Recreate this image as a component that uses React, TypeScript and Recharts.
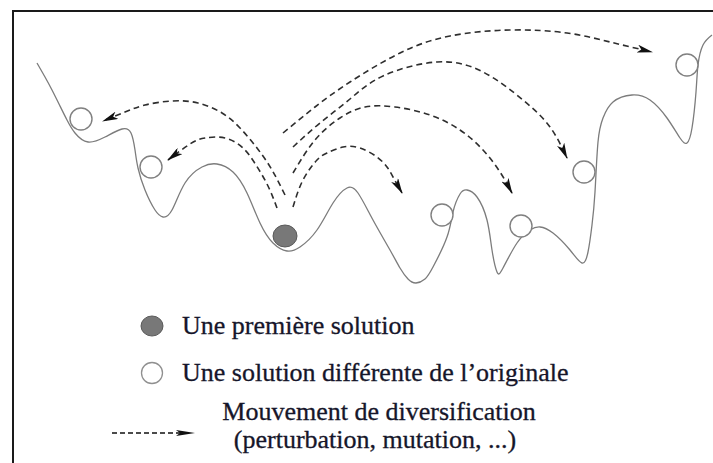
import { ComposedChart, Line, Scatter, XAxis, YAxis, Legend } from 'recharts';

// landscape of the search space (x = position, y = depth from the top of the frame)
const landscape = [
  { x: 37, y: 63 }, { x: 45, y: 77 }, { x: 52, y: 90 }, { x: 60, y: 106 }, { x: 67, y: 120 },
  { x: 75, y: 133 }, { x: 88, y: 142 }, { x: 105, y: 137 }, { x: 122, y: 129 }, { x: 131, y: 133 },
  { x: 135, y: 150 }, { x: 138, y: 168 }, { x: 145, y: 190 }, { x: 155, y: 210 }, { x: 163, y: 217 },
  { x: 172, y: 210 }, { x: 185, y: 183 }, { x: 202, y: 167 }, { x: 217, y: 164 }, { x: 233, y: 172 },
  { x: 247, y: 193 }, { x: 260, y: 223 }, { x: 273, y: 243 }, { x: 287, y: 251 }, { x: 300, y: 247 },
  { x: 317, y: 230 }, { x: 333, y: 203 }, { x: 347, y: 188 }, { x: 358, y: 193 }, { x: 373, y: 220 },
  { x: 390, y: 250 }, { x: 400, y: 268 }, { x: 408, y: 279 }, { x: 416, y: 283 }, { x: 425, y: 279 },
  { x: 433, y: 267 }, { x: 447, y: 237 }, { x: 453, y: 212 }, { x: 460, y: 194 }, { x: 467, y: 190 },
  { x: 477, y: 197 }, { x: 487, y: 220 }, { x: 492, y: 250 }, { x: 497, y: 272 }, { x: 503, y: 268 },
  { x: 517, y: 243 }, { x: 530, y: 230 }, { x: 540, y: 227 }, { x: 553, y: 233 }, { x: 570, y: 250 },
  { x: 582, y: 263 }, { x: 588, y: 252 }, { x: 592, y: 225 }, { x: 595, y: 192 }, { x: 598, y: 142 },
  { x: 603, y: 118 }, { x: 613, y: 102 }, { x: 632, y: 95 }, { x: 650, y: 100 }, { x: 667, y: 118 },
  { x: 680, y: 138 }, { x: 687, y: 143 }, { x: 692, y: 128 }, { x: 696, y: 92 }, { x: 698, y: 65 },
  { x: 703, y: 45 }, { x: 712, y: 35 },
];

const firstSolution = [{ x: 285, y: 236 }];

const otherSolutions = [
  { x: 81, y: 119 }, { x: 151, y: 167 }, { x: 442, y: 215 },
  { x: 521, y: 226 }, { x: 584, y: 172 }, { x: 687, y: 65 },
];

// diversification moves
const moveLeftOuter = [
  { x: 285, y: 195 }, { x: 272, y: 170 }, { x: 257, y: 148 }, { x: 240, y: 128 }, { x: 222, y: 113 },
  { x: 198, y: 103 }, { x: 172, y: 101 }, { x: 145, y: 105 }, { x: 125, y: 112 }, { x: 103, y: 121 },
];
const moveLeftInner = [
  { x: 277, y: 208 }, { x: 268, y: 186 }, { x: 256, y: 165 }, { x: 243, y: 148 }, { x: 225, y: 138 },
  { x: 205, y: 138 }, { x: 190, y: 144 }, { x: 168, y: 160 },
];
const moveRightTop = [
  { x: 283, y: 133 }, { x: 315, y: 107 }, { x: 350, y: 82 }, { x: 400, y: 53 }, { x: 450, y: 36 },
  { x: 510, y: 30 }, { x: 567, y: 33 }, { x: 610, y: 42 }, { x: 652, y: 52 },
];
const moveRightSecond = [
  { x: 293, y: 147 }, { x: 320, y: 123 }, { x: 350, y: 99 }, { x: 383, y: 76 }, { x: 437, y: 62 },
  { x: 483, y: 72 }, { x: 523, y: 100 }, { x: 550, y: 127 }, { x: 567, y: 158 },
];
const moveRightThird = [
  { x: 293, y: 173 }, { x: 315, y: 140 }, { x: 340, y: 118 }, { x: 365, y: 107 }, { x: 395, y: 107 },
  { x: 430, y: 115 }, { x: 460, y: 130 }, { x: 483, y: 150 }, { x: 500, y: 172 }, { x: 512, y: 193 },
];
const moveRightFourth = [
  { x: 293, y: 207 }, { x: 303, y: 180 }, { x: 317, y: 160 }, { x: 327, y: 153 }, { x: 343, y: 147 },
  { x: 360, y: 148 }, { x: 377, y: 157 }, { x: 387, y: 167 }, { x: 393, y: 177 }, { x: 402, y: 193 },
];

const moves = [moveLeftOuter, moveLeftInner, moveRightTop, moveRightSecond, moveRightThird, moveRightFourth];

const legendLabels = [
  'Une première solution',
  'Une solution différente de l’originale',
  'Mouvement de diversification',
  '(perturbation, mutation, ...)',
];

const W = 713;
const H = 463;
const serif = '"Liberation Serif", "DejaVu Serif", serif';
const ink = '#16162a';

const Ring = (p: any) => (
  <circle cx={p.cx} cy={p.cy} r={11} fill="#fff" stroke="#808080" strokeWidth={1.4} />
);

const Ball = (p: any) => (
  <ellipse cx={p.cx} cy={p.cy} rx={12} ry={11} fill="#787878" stroke="#5a5a5a" strokeWidth={1} />
);

function LegendKey() {
  return (
    <svg width={W} height={H} style={{ display: 'block' }}>
      <ellipse cx={152} cy={326} rx={11} ry={10} fill="#787878" stroke="#5a5a5a" />
      <text x={182} y={334} fontFamily={serif} fontSize={26} fill={ink} stroke={ink} strokeWidth={0.3}>{legendLabels[0]}</text>
      <circle cx={152} cy={373} r={10.5} fill="#fff" stroke="#909090" strokeWidth={1.3} />
      <text x={182} y={381} fontFamily={serif} fontSize={26} fill={ink} stroke={ink} strokeWidth={0.3}>{legendLabels[1]}</text>
      <line x1={112} y1={433} x2={180} y2={433} stroke="#111" strokeWidth={1.5} strokeDasharray="5 3" />
      <polygon points="176,430 195,433 176,436 180,433" fill="#111" />
      <text x={379} y={420} textAnchor="middle" fontFamily={serif} fontSize={26} fill={ink} stroke={ink} strokeWidth={0.3}>{legendLabels[2]}</text>
      <text x={375} y={448} textAnchor="middle" fontFamily={serif} fontSize={26} fill={ink} stroke={ink} strokeWidth={0.3}>{legendLabels[3]}</text>
    </svg>
  );
}

export default function App() {
  return (
    <div style={{ position: 'absolute', left: 0, top: 0, width: W, height: H, background: '#fff', overflow: 'hidden' }}>
      <div
        style={{
          position: 'absolute', left: 12, top: 10, width: W, height: H,
          borderTop: '2px solid #1a1a1a', borderLeft: '2px solid #1a1a1a',
        }}
      />
      <ComposedChart width={W} height={H} margin={{ top: 0, right: 0, bottom: 0, left: 0 }} style={{ position: 'absolute', left: 0, top: 0 }}>
        <defs>
          <marker id="moveHead" viewBox="0 0 16 8" refX={15} refY={4} markerWidth={16} markerHeight={8} markerUnits="userSpaceOnUse" orient="auto">
            <path d="M0,0 L16,4 L0,8 L4,4 z" fill="#111" stroke="none" />
          </marker>
        </defs>
        <XAxis type="number" dataKey="x" domain={[0, W]} hide />
        <YAxis type="number" domain={[0, H]} reversed hide />
        <Line data={landscape} dataKey="y" type="natural" stroke="#7c7c7c" strokeWidth={1.3} dot={false} activeDot={false} isAnimationActive={false} legendType="none" />
        {moves.map((m, i) => (
          <Line
            key={i}
            data={m}
            dataKey="y"
            type="natural"
            stroke="#2e2e2e"
            strokeWidth={1.6}
            strokeDasharray="6 4"
            dot={false}
            activeDot={false}
            markerEnd="url(#moveHead)"
            isAnimationActive={false}
            legendType="none"
          />
        ))}
        <Scatter data={otherSolutions} dataKey="y" shape={Ring} isAnimationActive={false} legendType="none" />
        <Scatter data={firstSolution} dataKey="y" shape={Ball} isAnimationActive={false} legendType="none" />
        <Legend
          layout="horizontal"
          verticalAlign="middle"
          align="center"
          content={() => <LegendKey />}
          wrapperStyle={{ left: 0, top: 0, width: W, height: H, pointerEvents: 'none' }}
        />
      </ComposedChart>
    </div>
  );
}
